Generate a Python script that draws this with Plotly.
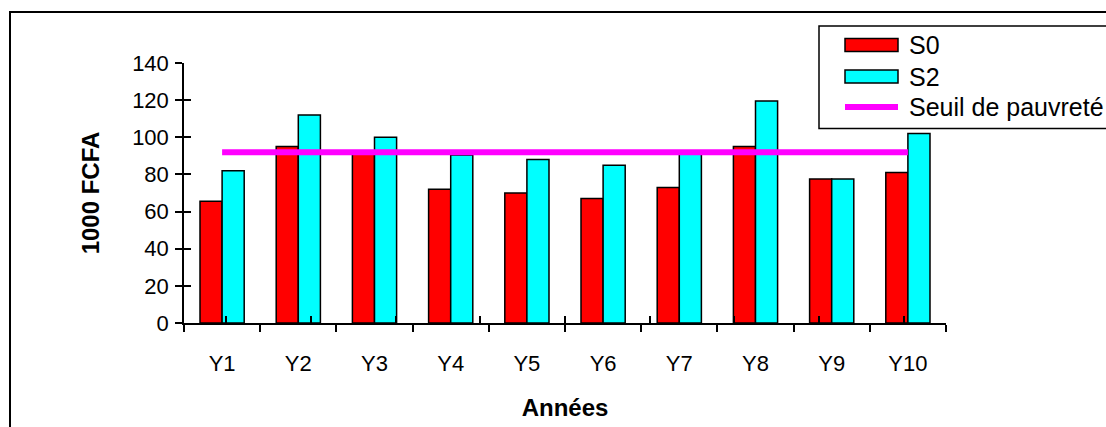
import plotly.graph_objects as go

# Yearly income per scenario (thousand FCFA)
years = ["Y1", "Y2", "Y3", "Y4", "Y5", "Y6", "Y7", "Y8", "Y9", "Y10"]
s0 = [65.5, 95, 92, 72, 70, 67, 73, 95, 77.5, 81]
s2 = [82, 112, 100, 90.5, 88, 85, 91, 119.5, 77.5, 102]
poverty_line = 92
y_ticks = [0, 20, 40, 60, 80, 100, 120, 140]

series_names = ["S0", "S2", "Seuil de pauvreté"]
series_colors = ["#FF0000", "#00FFFF", "#FF00FF"]

FONT = "Arial, Liberation Sans, sans-serif"

# page geometry
W, H = 1106, 427
ML, MR, MT, MB = 184, 160, 63, 104
PW, PH = W - ML - MR, H - MT - MB


def px(x):
    """horizontal page pixel -> paper fraction"""
    return (x - ML) / PW


def py(y):
    """vertical page pixel (from top) -> paper fraction"""
    return (H - MB - y) / PH


fig = go.Figure()
fig.add_trace(go.Bar(x=years, y=s0, name=series_names[0],
                     marker=dict(color=series_colors[0], line=dict(color="black", width=1.5))))
fig.add_trace(go.Bar(x=years, y=s2, name=series_names[1],
                     marker=dict(color=series_colors[1], line=dict(color="black", width=1.5))))
fig.add_trace(go.Scatter(x=years, y=[poverty_line] * len(years), name=series_names[2],
                         mode="lines", line=dict(color=series_colors[2], width=6)))
# invisible helper trace so the overlay axes (inner half of the cross ticks) are drawn
fig.add_trace(go.Scatter(x=years, y=[None] * len(years), xaxis="x2", yaxis="y2",
                         showlegend=False, hoverinfo="skip", mode="lines"))

# outer chart frame
shapes = [dict(type="rect", xref="paper", yref="paper",
               x0=px(10), x1=px(W + 20), y0=py(H + 20), y1=py(12),
               line=dict(color="black", width=2), fillcolor="rgba(0,0,0,0)", layer="below")]

# legend box with wide swatches
shapes.append(dict(type="rect", xref="paper", yref="paper",
                   x0=px(819), x1=px(W + 20), y0=py(128.5), y1=py(26),
                   line=dict(color="black", width=1.5), fillcolor="white", layer="above"))
annotations = []
row_y = [45, 76.5, 107]
for i, (name, color) in enumerate(zip(series_names, series_colors)):
    yc = row_y[i]
    if i < 2:
        shapes.append(dict(type="rect", xref="paper", yref="paper",
                           x0=px(845), x1=px(898), y0=py(yc + 6.5), y1=py(yc - 6.5),
                           line=dict(color="black", width=1.5), fillcolor=color, layer="above"))
    else:
        shapes.append(dict(type="line", xref="paper", yref="paper",
                           x0=px(845), x1=px(898), y0=py(yc), y1=py(yc),
                           line=dict(color=color, width=6), layer="above"))
    annotations.append(dict(text=name, xref="paper", yref="paper", x=px(907), y=py(yc),
                            xanchor="left", yanchor="middle", showarrow=False,
                            font=dict(family=FONT, size=25, color="black")))

fig.update_layout(
    width=W, height=H,
    margin=dict(l=ML, r=MR, t=MT, b=MB),
    paper_bgcolor="white", plot_bgcolor="white",
    font=dict(family=FONT, size=22, color="black"),
    barmode="group", bargap=0.42, bargroupgap=0,
    showlegend=False,
    xaxis=dict(type="category", categoryorder="array", categoryarray=years,
               showline=True, linecolor="black", linewidth=1.5,
               ticks="outside", ticklen=7, tickwidth=1.5, tickcolor="black",
               tickson="boundaries", ticklabelstandoff=20, automargin=False,
               showgrid=False, zeroline=False,
               title=dict(text="<b>Années</b>", font=dict(size=24), standoff=24)),
    yaxis=dict(range=[0, 140], tickvals=y_ticks,
               showline=True, linecolor="black", linewidth=1.5,
               ticks="outside", ticklen=7, tickwidth=1.5, tickcolor="black",
               showgrid=False, zeroline=False, ticklabelstandoff=2, automargin=False,
               title=dict(text="<b>1000 FCFA</b>", font=dict(size=24), standoff=26)),
    xaxis2=dict(type="category", categoryorder="array", categoryarray=years,
                overlaying="x", anchor="y2", tickson="boundaries",
                ticks="inside", ticklen=7, tickwidth=1.5, tickcolor="black",
                showticklabels=False, showline=False, showgrid=False, zeroline=False),
    yaxis2=dict(range=[0, 140], tickvals=y_ticks, overlaying="y", anchor="x2",
                ticks="inside", ticklen=7, tickwidth=1.5, tickcolor="black",
                showticklabels=False, showline=False, showgrid=False, zeroline=False),
    shapes=shapes,
    annotations=annotations,
)

fig.write_html("out.html")
